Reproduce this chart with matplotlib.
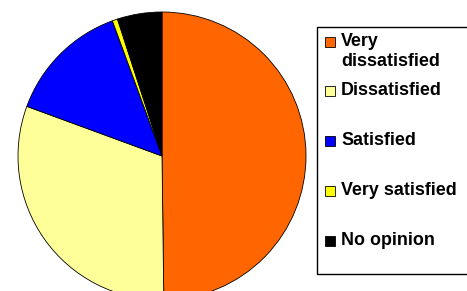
import matplotlib.pyplot as plt
from matplotlib.patches import Rectangle

labels = ['Very\ndissatisfied', 'Dissatisfied', 'Satisfied', 'Very satisfied', 'No opinion']
values = [49.8, 30.8, 13.8, 0.6, 5.0]
colors = ['#FF6600', '#FFFF99', '#0000FF', '#FFFF00', '#000000']

plt.rcParams['font.family'] = ['Liberation Sans', 'DejaVu Sans']

W, H = 467, 291
fig = plt.figure(figsize=(W / 100, H / 100), dpi=100)

# pie: centre (162, 156) px from top-left, radius 144 px
r = 144
ax = fig.add_axes([(162 - r) / W, (H - 156 - r) / H, 2 * r / W, 2 * r / H])
ax.pie(values, colors=colors, startangle=90, counterclock=False,
       wedgeprops=dict(edgecolor='black', linewidth=0.6))
ax.set_xlim(-1, 1)
ax.set_ylim(-1, 1)
ax.set_aspect('equal')
ax.axis('off')

# legend drawn in pixel coordinates
lg = fig.add_axes([0, 0, 1, 1])
lg.set_xlim(0, W)
lg.set_ylim(H, 0)
lg.axis('off')
lg.add_patch(Rectangle((317, 27), 155, 247, facecolor='white', edgecolor='black', linewidth=1, clip_on=False))

baselines = [46, 95, 145, 195, 245]
for lab, col, yb in zip(labels, colors, baselines):
    lg.add_patch(Rectangle((325, yb - 9), 10, 10, facecolor=col, edgecolor='black', linewidth=0.6))
    lines = lab.split('\n')
    for k, line in enumerate(lines):
        lg.text(341, yb + 20 * k, line, fontsize=12.9, fontweight='heavy',
                va='baseline', ha='left')

fig.savefig('out.png', dpi=100)
